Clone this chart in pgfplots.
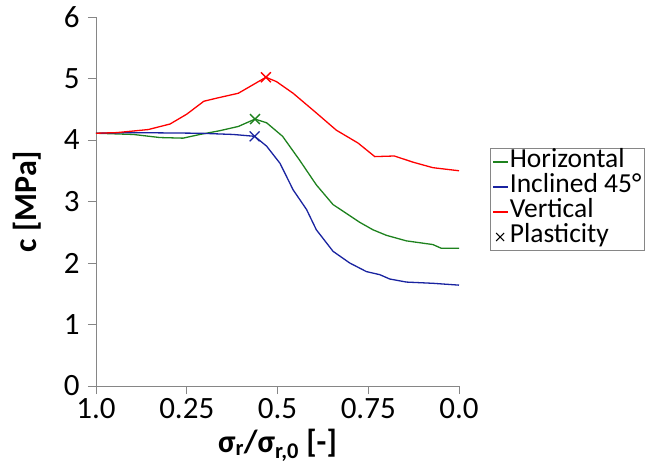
\documentclass[border=0pt]{standalone}
\usepackage{pgfplots}
\pgfplotsset{compat=1.18}
\usepackage{fontspec}
\setmainfont{Carlito}
\definecolor{cgreen}{RGB}{30,130,30}
\definecolor{cblue}{RGB}{25,35,160}
\definecolor{cred}{RGB}{255,0,0}
\definecolor{axgray}{RGB}{134,134,134}
\pgfplotsset{
  legline/.style={legend image code/.code={\draw[##1] (0bp,0bp) -- (15bp,0bp);}},
  legx/.style={legend image code/.code={\draw[##1] (3bp,-4bp) -- (11bp,4bp) (3bp,4bp) -- (11bp,-4bp);}},
}
\begin{document}
\begin{tikzpicture}
\begin{axis}[
  scale only axis,
  width=363bp, height=369bp,
  at={(96bp,82bp)}, anchor=south west,
  xmin=0, xmax=1, ymin=0, ymax=6,
  axis lines*=left,
  axis line style={axgray, line width=1bp},
  every tick/.style={axgray, line width=1bp},
  tick align=outside,
  major tick length=8bp,
  xtick={0,0.25,0.5,0.75,1},
  xticklabels={1.0,0.25,0.5,0.75,0.0},
  ytick={0,1,2,3,4,5,6},
  /pgf/number format/assume math mode=true,
  tick label style={font=\fontsize{31bp}{34bp}\selectfont, black},
  yticklabel style={xshift=-5bp},
  xticklabel style={yshift=-1bp},
  xlabel={\textbf{σ\textsubscript{r}/σ\textsubscript{r,0} [-]}},
  ylabel={\textbf{c [MPa]}},
  label style={font=\fontsize{32bp}{36bp}\selectfont},
  xlabel style={at={(axis description cs:0.5,-0.16)}, anchor=center},
  ylabel style={at={(axis description cs:-0.19,0.5)}, anchor=center},
  legend style={at={(1.085,0.645)}, anchor=north west, draw=axgray, line width=1bp,
    font=\fontsize{27.5bp}{27bp}\selectfont, inner xsep=2bp, inner ysep=1bp,
    nodes={inner sep=1bp, text height=17bp, text depth=6bp},
    row sep=0bp, cells={anchor=west}},
  clip=false,
]
\addlegendimage{cgreen, line width=1.5bp, legline}
\addlegendentry{Horizontal}
\addlegendimage{cblue, line width=1.5bp, legline}
\addlegendentry{Inclined 45°}
\addlegendimage{cred, line width=1.5bp, legline}
\addlegendentry{Vertical}
\addlegendimage{black, line width=1bp, legx}
\addlegendentry{Plasticity}
\addplot[cgreen, line width=1.3bp, forget plot] coordinates {
(0,4.11) (0.103,4.09) (0.176,4.04) (0.24,4.03) (0.286,4.09) (0.34,4.15) (0.392,4.22) (0.438,4.34)
(0.47,4.28) (0.514,4.06) (0.56,3.68) (0.607,3.27) (0.653,2.95) (0.699,2.77) (0.727,2.66)
(0.763,2.54) (0.8,2.45) (0.855,2.36) (0.928,2.30) (0.951,2.24) (1.0,2.24)};
\addplot[cblue, line width=1.3bp, forget plot] coordinates {
(0,4.11) (0.103,4.12) (0.286,4.11) (0.378,4.09) (0.437,4.06) (0.47,3.90) (0.507,3.62)
(0.543,3.19) (0.58,2.87) (0.607,2.54) (0.653,2.19) (0.699,2.00) (0.745,1.86) (0.782,1.81)
(0.809,1.74) (0.855,1.69) (0.928,1.67) (1.0,1.64)};
\addplot[cred, line width=1.3bp, forget plot] coordinates {
(0,4.11) (0.057,4.12) (0.144,4.17) (0.204,4.26) (0.25,4.42) (0.297,4.63) (0.332,4.68)
(0.392,4.76) (0.433,4.90) (0.468,5.02) (0.497,4.95) (0.543,4.76) (0.607,4.44) (0.662,4.16)
(0.722,3.95) (0.768,3.73) (0.822,3.74) (0.873,3.64) (0.928,3.55) (1.0,3.50)};
\addplot[only marks, mark=x, mark size=7bp, cgreen, line width=1.3bp, forget plot] coordinates {(0.438,4.34)};
\addplot[only marks, mark=x, mark size=7bp, cblue, line width=1.3bp, forget plot] coordinates {(0.437,4.06)};
\addplot[only marks, mark=x, mark size=7bp, cred, line width=1.3bp, forget plot] coordinates {(0.468,5.02)};
\end{axis}
\pgfresetboundingbox
\useasboundingbox (0,0) rectangle (645bp,468bp);
\end{tikzpicture}
\end{document}
